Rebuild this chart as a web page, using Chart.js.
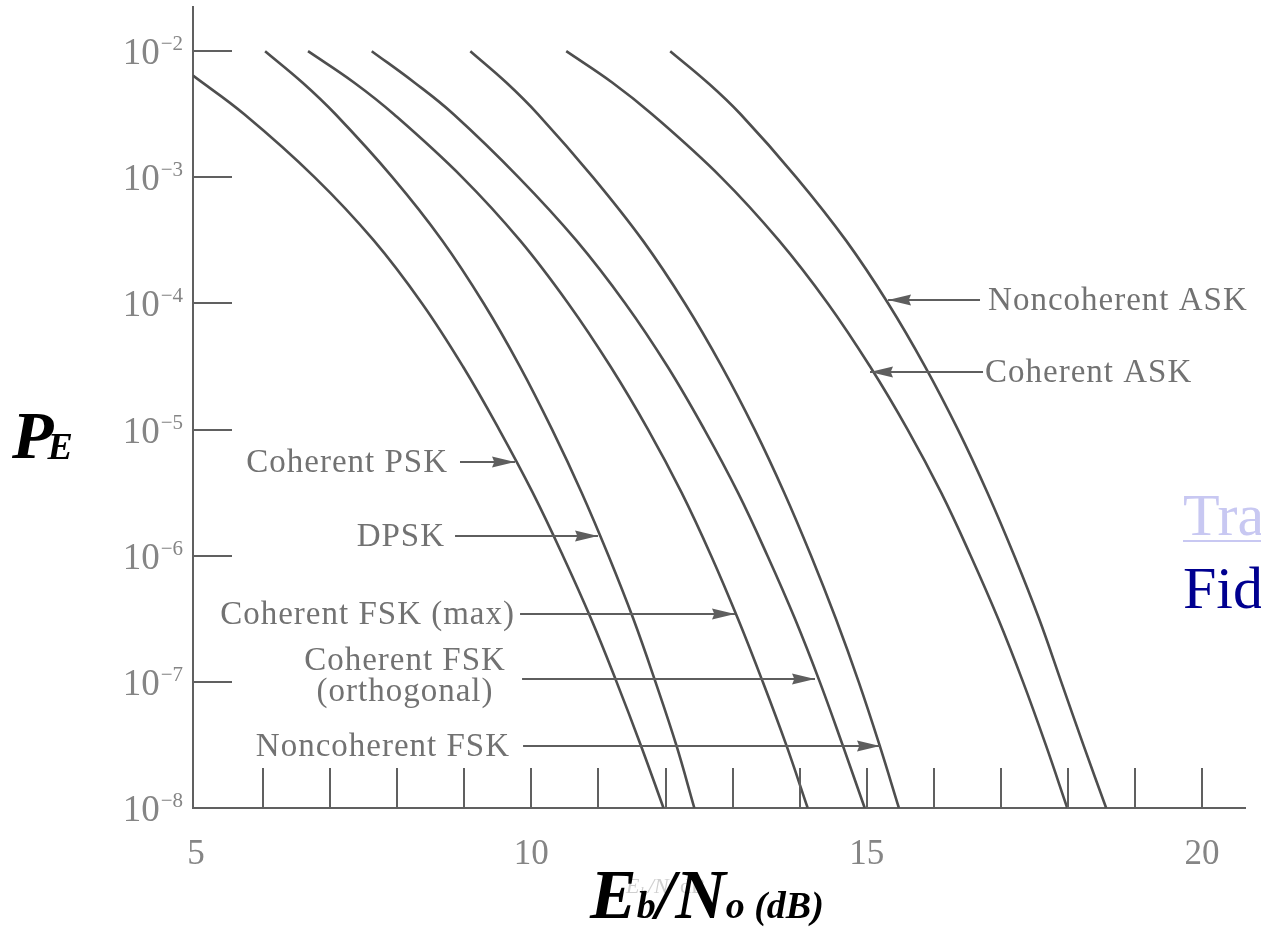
<!DOCTYPE html>
<html>
<head>
<meta charset="utf-8">
<script src="https://cdn.jsdelivr.net/npm/chart.js@4.4.1/dist/chart.umd.min.js"></script>
<style>
html,body{margin:0;padding:0;background:#fff;}
#wrap{width:1261px;height:929px;position:relative;}
</style>
</head>
<body>
<div id="wrap"><canvas id="c"></canvas></div>
<script>
// ---------- data ----------
// Pe levels at which each curve's Eb/No (dB) was read
const peGrid = [1e-2, 5.623e-3, 3.162e-3, 1e-3, 3.162e-4, 1e-4, 3.162e-5, 1e-5, 3.162e-6, 1e-6, 3.162e-7, 1e-7, 3.162e-8, 1e-8];
// Coherent PSK starts at the left axis, below 1e-2
const pskPe = [6.4e-3, 3.162e-3, 1e-3, 3.162e-4, 1e-4, 3.162e-5, 1e-5, 3.162e-6, 1e-6, 3.162e-7, 1e-7, 3.162e-8, 1e-8];

const coherentPSK     = [4.955, 5.72, 6.77, 7.65, 8.37, 8.98, 9.52, 10.02, 10.47, 10.89, 11.27, 11.63, 11.97];
const dpsk            = [6.03, 6.59, 7.08, 7.93, 8.67, 9.29, 9.83, 10.31, 10.75, 11.15, 11.52, 11.85, 12.16, 12.43];
const coherentFSKmax  = [6.67, 7.36, 7.95, 8.97, 9.83, 10.55, 11.18, 11.74, 12.24, 12.68, 13.08, 13.45, 13.80, 14.12];
const coherentFSKorth = [7.62, 8.26, 8.84, 9.81, 10.67, 11.40, 12.03, 12.58, 13.08, 13.52, 13.93, 14.30, 14.64, 14.97];
const noncoherentFSK  = [9.09, 9.63, 10.10, 10.92, 11.66, 12.29, 12.84, 13.33, 13.77, 14.17, 14.54, 14.88, 15.19, 15.48];
const coherentASK     = [10.52, 11.21, 11.80, 12.83, 13.69, 14.42, 15.05, 15.61, 16.11, 16.55, 16.96, 17.33, 17.67, 17.99];
const noncoherentASK  = [12.07, 12.63, 13.12, 13.95, 14.69, 15.32, 15.87, 16.36, 16.80, 17.20, 17.57, 17.90, 18.23, 18.57];

const seriesNames = ['Coherent PSK', 'DPSK', 'Coherent FSK (max)', 'Coherent FSK (orthogonal)',
                     'Noncoherent FSK', 'Coherent ASK', 'Noncoherent ASK'];

const yTickValues = [1e-2, 1e-3, 1e-4, 1e-5, 1e-6, 1e-7, 1e-8];
const yTickExponents = ['\u22122', '\u22123', '\u22124', '\u22125', '\u22126', '\u22127', '\u22128'];
const xTickValues = [5, 6, 7, 8, 9, 10, 11, 12, 13, 14, 15, 16, 17, 18, 19, 20];
const xTickLabels = ['5', '', '', '', '', '10', '', '', '', '', '15', '', '', '', '', '20'];

// ---------- annotation layout (in data coordinates) ----------
const annotations = [
  {lines: ['Coherent PSK'], align: 'right', textX: 8.757, textYs: [5.53e-6], from: 8.936, tip: 9.756, arrowY: 5.53e-6},
  {lines: ['DPSK'], align: 'right', textX: 8.713, textYs: [1.435e-6], from: 8.862, tip: 10.994, arrowY: 1.435e-6},
  {lines: ['Coherent FSK (max)'], align: 'right', textX: 9.756, textYs: [3.46e-7], from: 9.831, tip: 13.036, arrowY: 3.46e-7},
  {lines: ['Coherent FSK', '(orthogonal)'], align: 'center', textX: 8.116, textYs: [1.49e-7, 8.34e-8], from: 9.861, tip: 14.229, arrowY: 1.057e-7},
  {lines: ['Noncoherent FSK'], align: 'right', textX: 9.682, textYs: [3.11e-8], from: 9.876, tip: 15.198, arrowY: 3.11e-8},
  {lines: ['Noncoherent ASK'], align: 'left', textX: 16.809, textYs: [1.064e-4], from: 16.689, tip: 15.318, arrowY: 1.064e-4},
  {lines: ['Coherent ASK'], align: 'left', textX: 16.764, textYs: [2.86e-5], from: 16.734, tip: 15.049, arrowY: 2.86e-5}
];

const SERIF = '"Liberation Serif", "Times New Roman", "DejaVu Serif", serif';
const LINE_COLOR = '#4e4e4e';
const AXIS_COLOR = '#606060';
const TICK_TEXT = '#858585';
const NOTE_TEXT = '#727272';

function pts(xs, ys) { return xs.map((x, i) => ({x: x, y: ys[i]})); }

const allX = [coherentPSK, dpsk, coherentFSKmax, coherentFSKorth, noncoherentFSK, coherentASK, noncoherentASK];
const allY = [pskPe, peGrid, peGrid, peGrid, peGrid, peGrid, peGrid];

const datasets = allX.map((xs, i) => ({
  label: seriesNames[i],
  data: pts(xs, allY[i]),
  borderColor: LINE_COLOR,
  borderWidth: 2.6,
  pointRadius: 0,
  fill: false,
  tension: 0.4
}));

function drawArrow(ctx, x1, y, x2) {
  ctx.beginPath();
  ctx.moveTo(x1, y);
  ctx.lineTo(x2, y);
  ctx.stroke();
  const dir = Math.sign(x2 - x1);
  const L = 23, W = 5.5;
  ctx.beginPath();
  ctx.moveTo(x2, y);
  ctx.lineTo(x2 - dir * L, y - W);
  ctx.lineTo(x2 - dir * L * 0.9, y);
  ctx.lineTo(x2 - dir * L, y + W);
  ctx.closePath();
  ctx.fill();
}

const decorPlugin = {
  id: 'decor',
  afterDraw(chart) {
    const ctx = chart.ctx;
    const xs = chart.scales.x, ys = chart.scales.y;
    const area = chart.chartArea;
    ctx.save();

    // inner tick marks
    ctx.strokeStyle = AXIS_COLOR;
    ctx.lineWidth = 2;
    yTickValues.forEach(v => {
      if (v === ys.min) return;
      const y = Math.round(ys.getPixelForValue(v));
      ctx.beginPath(); ctx.moveTo(area.left, y); ctx.lineTo(area.left + 39, y); ctx.stroke();
    });
    xTickValues.forEach(v => {
      if (v === 5) return;
      const x = Math.round(xs.getPixelForValue(v));
      ctx.beginPath(); ctx.moveTo(x, area.bottom); ctx.lineTo(x, area.bottom - 40); ctx.stroke();
    });

    // y tick labels 10^-n
    ctx.fillStyle = TICK_TEXT;
    yTickValues.forEach((v, i) => {
      const y = ys.getPixelForValue(v);
      ctx.font = '21px ' + SERIF;
      const we = ctx.measureText(yTickExponents[i]).width;
      ctx.textAlign = 'left';
      ctx.textBaseline = 'alphabetic';
      ctx.fillText(yTickExponents[i], 183 - we, y - 1);
      ctx.font = '37px ' + SERIF;
      ctx.textAlign = 'right';
      ctx.fillText('10', 183 - we - 1, y + 13);
    });

    // annotations with arrows
    ctx.font = '33px ' + SERIF;
    ctx.fillStyle = NOTE_TEXT;
    if ('letterSpacing' in ctx) ctx.letterSpacing = '1px';
    annotations.forEach(a => {
      ctx.textAlign = a.align;
      ctx.textBaseline = 'middle';
      const tx = xs.getPixelForValue(a.textX);
      a.lines.forEach((t, k) => ctx.fillText(t, tx, ys.getPixelForValue(a.textYs[k]) + 1));
    });
    if ('letterSpacing' in ctx) ctx.letterSpacing = '0px';
    ctx.strokeStyle = '#5e5e5e';
    ctx.fillStyle = '#5e5e5e';
    ctx.lineWidth = 2;
    annotations.forEach(a => {
      drawArrow(ctx, xs.getPixelForValue(a.from), Math.round(ys.getPixelForValue(a.arrowY)), xs.getPixelForValue(a.tip));
    });

    // faint scanned axis caption
    ctx.fillStyle = '#cfcfcf';
    ctx.textAlign = 'left';
    ctx.textBaseline = 'alphabetic';
    ctx.font = 'italic 22px ' + SERIF;
    ctx.fillText('E', 626, 893);
    ctx.font = 'italic 15px ' + SERIF;
    ctx.fillText('b', 640, 897);
    ctx.font = 'italic 22px ' + SERIF;
    ctx.fillText('/N', 648, 893);
    ctx.font = '22px ' + SERIF;
    ctx.fillText('dB', 680, 893);

    // axis titles
    ctx.fillStyle = '#000';
    ctx.font = 'bold italic 68px ' + SERIF;
    ctx.fillText('P', 12, 458);
    let px = 12 + ctx.measureText('P').width - 6;
    ctx.font = 'bold italic 38px ' + SERIF;
    ctx.fillText('E', px, 459);

    let bx = 590;
    const big = 'bold italic 70px ' + SERIF, small = 'bold italic 38px ' + SERIF;
    const parts = [['E', big], ['b', small], ['/', big], ['N', big], ['o (dB)', small]];
    parts.forEach(p => {
      ctx.font = p[1];
      ctx.fillText(p[0], bx, 918);
      bx += ctx.measureText(p[0]).width;
    });

    // cut-off slide text at right
    ctx.font = '60px ' + SERIF;
    ctx.fillStyle = '#c8c8f2';
    ctx.fillText('Tra', 1183, 535);
    ctx.fillRect(1183, 540, 90, 2);
    ctx.fillStyle = '#000090';
    ctx.fillText('Fid', 1183, 608);

    ctx.restore();
  }
};

new Chart(document.getElementById('c'), {
  type: 'line',
  data: {datasets: datasets},
  options: {
    responsive: true,
    maintainAspectRatio: false,
    animation: false,
    events: [],
    layout: {padding: {left: 0, top: 7, right: 16, bottom: 0}},
    plugins: {legend: {display: false}, tooltip: {enabled: false}},
    scales: {
      x: {
        type: 'linear',
        min: 4.955,
        max: 20.64,
        afterBuildTicks: s => { s.ticks = xTickValues.map(v => ({value: v})); },
        afterFit: s => { s.height = 121; },
        ticks: {
          autoSkip: false,
          maxRotation: 0,
          padding: 26,
          color: TICK_TEXT,
          font: {family: SERIF, size: 35},
          callback: (v) => { const i = xTickValues.indexOf(v); return i >= 0 ? xTickLabels[i] : ''; }
        },
        grid: {display: false, drawTicks: false},
        border: {display: true, color: AXIS_COLOR, width: 2}
      },
      y: {
        type: 'logarithmic',
        min: 1e-8,
        max: 0.0224,
        afterBuildTicks: s => { s.ticks = yTickValues.map(v => ({value: v})); },
        afterFit: s => { s.width = 193; },
        ticks: {display: false},
        grid: {display: false, drawTicks: false},
        border: {display: true, color: AXIS_COLOR, width: 2}
      }
    }
  },
  plugins: [decorPlugin]
});
</script>
</body>
</html>
